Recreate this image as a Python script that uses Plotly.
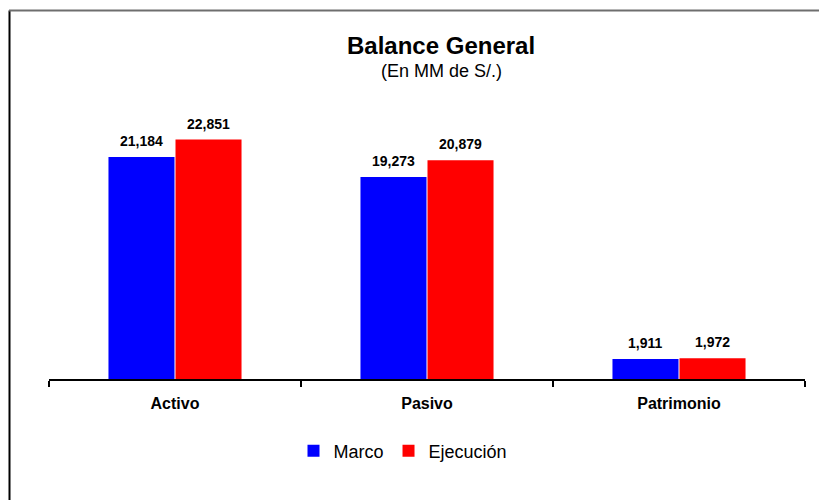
import plotly.graph_objects as go

categories = ["Activo", "Pasivo", "Patrimonio"]
marco = [21184, 19273, 1911]
ejecucion = [22851, 20879, 1972]
series_names = ["Marco", "Ejecución"]
title_text = "Balance General"
subtitle_text = "(En MM de S/.)"

W, H = 819, 500
ML, MR, MT, MB = 49, 14, 117, 121
PW, PH = W - ML - MR, H - MT - MB
FONT = "Liberation Sans, Arial, sans-serif"
BLUE, RED = "#0000FF", "#FF0000"
BARGAP, GROUPGAP = 0.468, 0.015


def px_x(p):
    return (p - ML) / PW


def px_y(p):
    return (H - MB - p) / PH


fig = go.Figure()
for name, vals, col in [(series_names[0], marco, BLUE), (series_names[1], ejecucion, RED)]:
    fig.add_trace(go.Bar(
        x=categories, y=vals, name=name,
        marker=dict(color=col, line=dict(width=0)),
        hoverinfo="skip",
    ))

# value labels above bars
bw = (1 - BARGAP) / 2
annotations = []
for i, cat in enumerate(categories):
    for j, vals in enumerate([marco, ejecucion]):
        xc = i + (j - 0.5) * bw
        annotations.append(dict(
            x=xc, y=vals[i], xref="x", yref="y", text=f"{vals[i]:,}",
            showarrow=False, yanchor="bottom", yshift=6,
            font=dict(family=FONT, size=14, color="black", weight="bold"),
        ))

annotations.append(dict(
    x=px_x(441), y=px_y(45), xref="paper", yref="paper", text="<b>" + title_text + "</b>",
    showarrow=False, xanchor="center", yanchor="middle",
    font=dict(family=FONT, size=24, color="black"),
))
annotations.append(dict(
    x=px_x(441), y=px_y(71), xref="paper", yref="paper", text=subtitle_text,
    showarrow=False, xanchor="center", yanchor="middle",
    font=dict(family=FONT, size=18, color="black"),
))

shapes = [
    dict(type="line", xref="paper", yref="paper", x0=px_x(9.5), x1=px_x(9.5),
         y0=px_y(H + 5), y1=px_y(10.5), line=dict(color="black", width=2)),
    dict(type="line", xref="paper", yref="paper", x0=px_x(9), x1=px_x(W + 5),
         y0=px_y(10.5), y1=px_y(10.5), line=dict(color="#6e6e6e", width=2)),
]

fig.update_layout(
    width=W, height=H,
    margin=dict(l=ML, r=MR, t=MT, b=MB),
    paper_bgcolor="white", plot_bgcolor="white",
    barmode="group", bargap=BARGAP, bargroupgap=GROUPGAP,
    font=dict(family=FONT, color="black"),
    showlegend=True,
    legend=dict(orientation="h", x=px_x(403), xanchor="center", y=px_y(451), yanchor="middle",
                font=dict(family=FONT, size=18, color="black"), itemwidth=30,
                traceorder="normal"),
    annotations=annotations,
    shapes=shapes,
    xaxis=dict(type="category", showline=True, linecolor="black", linewidth=2,
               ticks="outside", tickson="boundaries", ticklen=6, tickwidth=1.5,
               tickcolor="black", showgrid=False, zeroline=False,
               ticklabelstandoff=9,
               tickfont=dict(family=FONT, size=16, color="black", weight="bold"),
               range=[-0.5, 2.5]),
    yaxis=dict(visible=False, range=[0, 25000], showgrid=False, zeroline=False),
)

fig.write_html("out.html")
